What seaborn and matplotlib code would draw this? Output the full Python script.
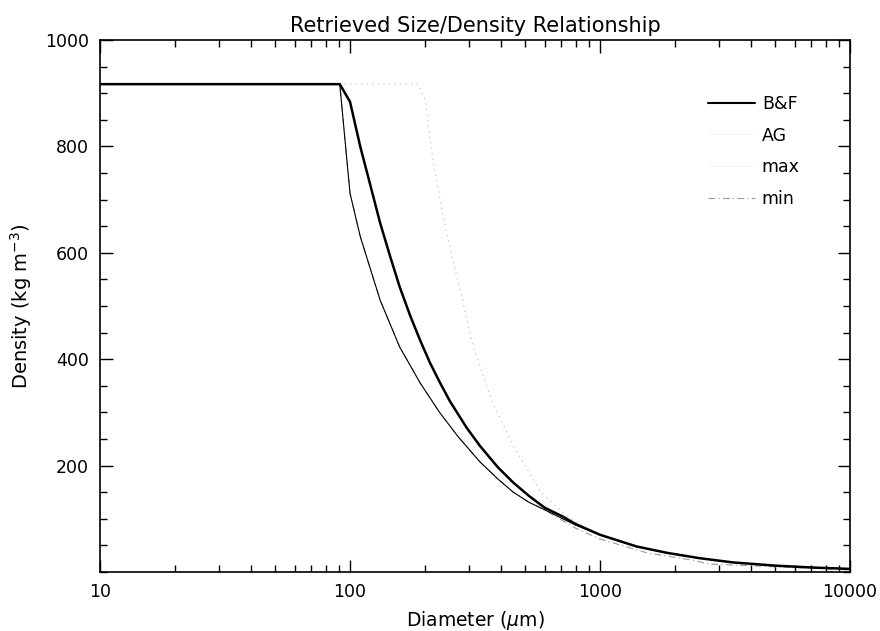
import matplotlib
matplotlib.use("Agg")
import matplotlib.pyplot as plt
from matplotlib.ticker import FixedLocator, MultipleLocator, LogLocator, NullFormatter, FixedFormatter
from matplotlib.lines import Line2D
import seaborn as sns
import pandas as pd

# ---- data ----
bf_d = [10, 91, 100, 110, 120, 132, 145, 158, 174, 191, 209, 229, 251, 293, 331, 390, 450,
        520, 600, 711, 800, 1000, 1400, 1854, 2500, 3400, 5000, 7000, 10000]
bf_rho = [917, 917, 884, 799, 731, 656, 592, 536, 482, 435, 393, 356, 321, 271, 237, 197, 168,
          143, 121, 104, 90, 70, 48, 36, 26, 18, 12, 8.5, 5.8]

ag_d = [10, 91, 100, 110, 132, 158, 191, 229, 270, 331, 390, 450, 520, 600,
        800, 1000, 1400, 1854, 2500, 3400, 5000, 7000, 10000]
ag_rho = [917, 917, 712, 630, 511, 423, 355, 299, 255, 207, 175, 150, 131, 117,
          88, 70, 48, 36, 26, 18, 12, 8.5, 5.8]

max_d = [10, 187, 200, 214, 236, 251, 263, 280, 297, 310, 370, 450, 580, 711, 890, 1000,
         1400, 1854, 2500, 3400, 5000, 7000, 10000]
max_rho = [917, 917, 887, 780, 667, 611, 568, 517, 461, 427, 320, 237, 150, 111, 81, 70,
           48, 36, 26, 18, 12, 8.5, 5.8]

min_d = [10, 91, 100, 110, 132, 158, 191, 229, 270, 331, 390, 450, 520, 600, 800, 1000,
         1542, 2290, 2750, 4800, 6300, 10000]
min_rho = [917, 917, 712, 630, 511, 423, 355, 299, 255, 207, 175, 150, 131, 117, 82, 62,
           36, 23, 15, 10, 8, 4]

x_ticks = [10, 100, 1000, 10000]
x_tick_labels = ["10", "100", "1000", "10000"]
y_ticks = [200, 400, 600, 800, 1000]
y_tick_labels = ["200", "400", "600", "800", "1000"]

sns.set_style("ticks")
plt.rcParams["font.family"] = ["DejaVu Sans"]
plt.rcParams["mathtext.fontset"] = "dejavusans"
plt.rcParams["text.color"] = "black"
plt.rcParams["axes.labelcolor"] = "black"

fig = plt.figure(figsize=(8.8, 6.31), dpi=100)
ax = fig.add_axes([100 / 880, 1 - 572 / 631, 750 / 880, 532 / 631])

def df(d, r):
    return pd.DataFrame({"D": d, "rho": r})

sns.lineplot(data=df(max_d, max_rho), x="D", y="rho", ax=ax, sort=False, estimator=None,
             color="#b5b5b5", linewidth=0.8, linestyle=(0, (1, 4)))
sns.lineplot(data=df(min_d, min_rho), x="D", y="rho", ax=ax, sort=False, estimator=None,
             color="#999999", linewidth=0.8, linestyle=(0, (6, 3, 1, 3)))
sns.lineplot(data=df(ag_d, ag_rho), x="D", y="rho", ax=ax, sort=False, estimator=None,
             color="black", linewidth=0.8)
sns.lineplot(data=df(bf_d, bf_rho), x="D", y="rho", ax=ax, sort=False, estimator=None,
             color="black", linewidth=1.8)

ax.set_xscale("log")
ax.set_xlim(10, 10000)
ax.set_ylim(0, 1000)

ax.xaxis.set_major_locator(FixedLocator(x_ticks))
ax.xaxis.set_major_formatter(FixedFormatter(x_tick_labels))
ax.xaxis.set_minor_locator(LogLocator(base=10, subs=range(2, 10)))
ax.xaxis.set_minor_formatter(NullFormatter())
ax.yaxis.set_major_locator(FixedLocator(y_ticks))
ax.yaxis.set_major_formatter(FixedFormatter(y_tick_labels))
ax.yaxis.set_minor_locator(MultipleLocator(50))

ax.tick_params(which="both", direction="in", top=True, right=True, color="black", width=1,
               labelsize=12.5, labelcolor="black")
ax.tick_params(which="major", length=9, pad=8)
ax.tick_params(which="minor", length=5)
for s in ax.spines.values():
    s.set_color("black")
    s.set_linewidth(1.2)

ax.set_xlabel("Diameter ($\\mu$m)", fontsize=13.5, labelpad=6, color="black")
ax.set_ylabel("Density (kg m$^{-3}$)", fontsize=14, labelpad=8, color="black")
ax.set_title("Retrieved Size/Density Relationship", fontsize=15, pad=6, color="black")

handles = [
    Line2D([], [], color="black", linewidth=1.5),
    Line2D([], [], color="#f2f2f2", linewidth=0.5),
    Line2D([], [], color="#f2f2f2", linewidth=0.5),
    Line2D([], [], color="#999999", linewidth=0.8, linestyle=(0, (6, 3, 1, 3))),
]
leg = ax.legend(handles, ["B&F", "AG", "max", "min"], loc="upper left",
                bbox_to_anchor=((708 - 100) / 750, (572 - 95) / 532), frameon=False,
                fontsize=12.5, handlelength=2.7, handletextpad=0.4, labelspacing=0.78,
                borderpad=0, borderaxespad=0)
for t in leg.get_texts():
    t.set_color("black")

fig.savefig("out.png", dpi=100)
